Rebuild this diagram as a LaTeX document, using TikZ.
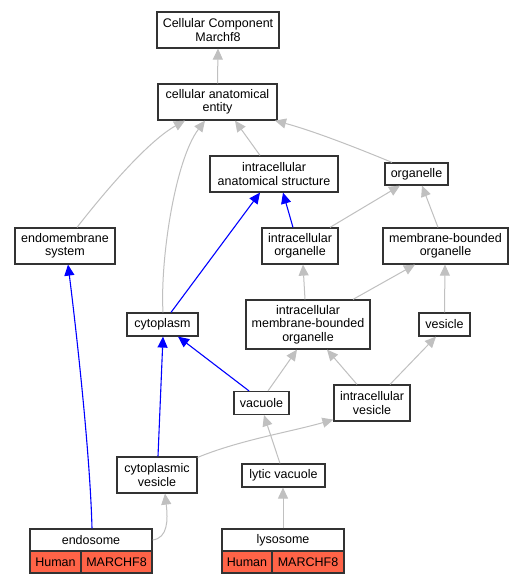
\documentclass[tikz,border=0pt]{standalone}
\usepackage{fontspec}
\setmainfont{Liberation Sans}
\usetikzlibrary{arrows.meta}
\definecolor{edgegray}{RGB}{192,192,192}
\definecolor{tomatofill}{RGB}{255,99,71}
\begin{document}
\begin{tikzpicture}[x=1pt,y=-1pt,
  box/.style={draw=black!80, line width=1.2pt, fill=white, inner sep=0pt, align=center,
    font=\fontsize{12.5}{13.5}\selectfont},
  cell/.style={box, fill=tomatofill},
  isa/.style={draw=edgegray, line width=1pt, -{Triangle[length=11pt,width=10pt]}},
  partof/.style={draw=blue, line width=1.1pt, -{Triangle[length=11pt,width=10pt]}}]
\useasboundingbox (0,0) rectangle (523,584);
\fill[white] (0,0) rectangle (523,584);

\node[box, minimum width=122pt, minimum height=36pt] (ccm) at (218,30) {Cellular Component\\Marchf8};
\node[box, minimum width=119pt, minimum height=36pt] (cae) at (217.5,102) {cellular anatomical\\entity};
\node[box, minimum width=128pt, minimum height=36pt] (ias) at (274,174) {intracellular\\anatomical structure};
\node[box, minimum width=63pt, minimum height=22pt] (org) at (416.5,174) {organelle};
\node[box, minimum width=100pt, minimum height=36pt] (ems) at (65,246) {endomembrane\\system};
\node[box, minimum width=76pt, minimum height=36pt] (io) at (300,246) {intracellular\\organelle};
\node[box, minimum width=125pt, minimum height=36pt] (mbo) at (445.5,246) {membrane-bounded\\organelle};
\node[box, minimum width=71pt, minimum height=23pt] (cyt) at (162.5,324.5) {cytoplasm};
\node[box, minimum width=124pt, minimum height=49pt] (imbo) at (308,324.5) {intracellular\\membrane-bounded\\organelle};
\node[box, minimum width=51pt, minimum height=23pt] (ves) at (444.5,324.5) {vesicle};
\node[box, minimum width=55pt, minimum height=23pt] (vac) at (261.5,403) {vacuole};
\node[box, minimum width=76pt, minimum height=36pt] (iv) at (372,403) {intracellular\\vesicle};
\node[box, minimum width=80pt, minimum height=36pt] (cv) at (157,475) {cytoplasmic\\vesicle};
\node[box, minimum width=83pt, minimum height=23pt] (lv) at (283.5,475.5) {lytic vacuole};

\node[box, minimum width=122pt, minimum height=22pt] (endo) at (91,540) {endosome};
\node[cell, minimum width=51pt, minimum height=22pt] (endoh) at (55.5,562) {Human};
\node[cell, minimum width=71pt, minimum height=22pt] (endom) at (116.5,562) {MARCHF8};
\node[box, minimum width=122pt, minimum height=22pt] (lyso) at (283,540) {lysosome};
\node[cell, minimum width=50pt, minimum height=22pt] (lysoh) at (247,562) {Human};
\node[cell, minimum width=72pt, minimum height=22pt] (lysom) at (308,562) {MARCHF8};

% gray is_a edges
\draw[isa] (cae.north) -- (ccm.south);
\draw[isa] ([xshift=12pt]ems.north) .. controls (110,185) and (150,140) .. ([xshift=-32.5pt]cae.south);
\draw[isa] ([xshift=0.5pt]cyt.north) .. controls (160,260) and (175,160) .. ([xshift=-12.5pt]cae.south);
\draw[isa] ([xshift=-14pt]ias.north) -- ([xshift=17.5pt]cae.south);
\draw[isa] ([xshift=-24.5pt]org.north) .. controls (350,145) and (310,130) .. ([xshift=57.5pt]cae.south);
\draw[isa] ([xshift=30pt]io.north) -- ([xshift=-16.5pt]org.south);
\draw[isa] ([xshift=-7.5pt]mbo.north) -- ([xshift=5.5pt]org.south);
\draw[isa] ([xshift=-3pt]imbo.north) -- ([xshift=3pt]io.south);
\draw[isa] ([xshift=45pt]imbo.north) -- ([xshift=-30.5pt]mbo.south);
\draw[isa] (ves.north) -- ([xshift=-0.5pt]mbo.south);
\draw[isa] ([xshift=6.5pt]vac.north) -- ([xshift=-11pt]imbo.south);
\draw[isa] ([xshift=-15pt]iv.north) -- ([xshift=19pt]imbo.south);
\draw[isa] ([xshift=18pt]iv.north) -- ([xshift=-8.5pt]ves.south);
\draw[isa] ([yshift=-1pt]cv.north east) .. controls (240,440) and (290,432) .. ([yshift=2pt]iv.south west);
\draw[isa] ([xshift=-3.5pt]lv.north) -- ([xshift=2.5pt]vac.south);
\draw[isa] (lyso.north) -- ([xshift=-0.5pt]lv.south);
\draw[isa] (endo.east) .. controls (168,538) and (168,520) .. ([xshift=8pt]cv.south);

% blue part_of edges
\draw[partof] ([xshift=-7pt]io.north) -- ([xshift=9pt]ias.south);
\draw[partof] ([xshift=8.5pt]cyt.north) -- ([xshift=-14pt]ias.south);
\draw[partof] ([xshift=-12.5pt]vac.north) -- ([xshift=15.5pt]cyt.south);
\draw[partof] ([xshift=1pt]cv.north) -- ([xshift=0.5pt]cyt.south);
\draw[partof] ([xshift=1pt]endo.north) .. controls (90,450) and (75,320) .. ([xshift=3pt]ems.south);
\end{tikzpicture}
\end{document}
